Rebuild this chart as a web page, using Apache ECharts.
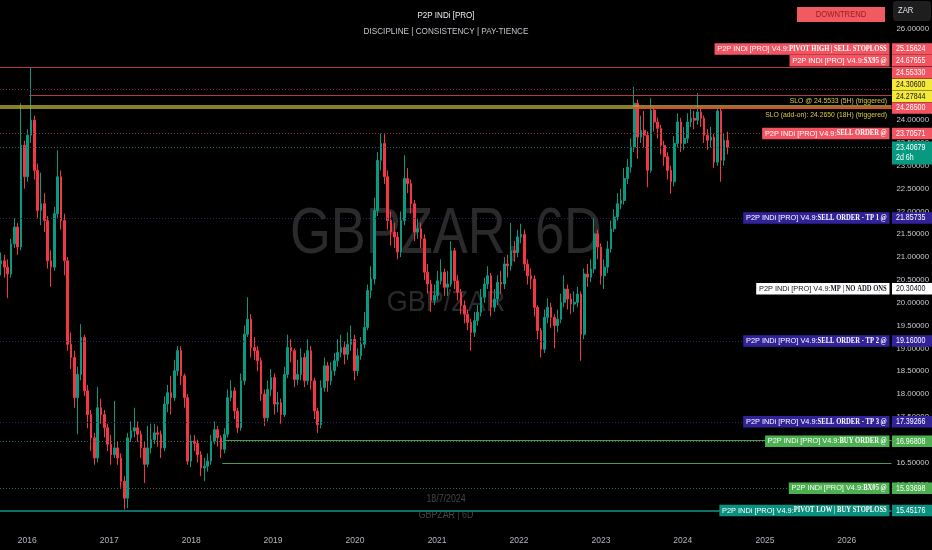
<!DOCTYPE html>
<html><head><meta charset="utf-8">
<script src="https://cdn.jsdelivr.net/npm/echarts@6/dist/echarts.min.js"></script>
<style>html,body{margin:0;padding:0;background:#000;}#c{width:932px;height:550px;}</style>
</head><body><div id="c"></div>
<script>
// ---------- DATA ----------
const START_DATE = '2015-09-07';
const STEP_DAYS = 14.85;
const X_MIN_DATE = '2015-09-02';
const X_MAX_DATE = '2026-07-19';
const FIRST_OPEN = 20.85;
const closes = [
20.92,20.78,20.63,21.29,21.66,21.22,23.45,22.76,23.67,24.00,
22.90,22.02,22.17,21.80,20.92,20.78,21.95,22.76,21.80,20.92,
19.09,18.80,17.92,18.43,19.24,18.07,17.55,17.04,16.60,17.70,
17.55,17.26,16.90,16.67,16.82,16.60,16.09,15.72,17.04,17.19,
17.26,17.12,16.82,16.46,16.82,17.00,17.15,17.12,16.82,17.78,
18.03,17.92,18.51,18.95,18.40,17.92,16.53,16.97,16.92,16.67,
16.38,16.42,16.53,16.97,17.22,17.04,16.79,17.12,17.92,18.07,
17.63,17.26,18.29,19.31,19.64,19.02,18.95,18.73,18.00,17.48,
18.10,18.36,17.78,17.81,17.55,18.43,19.02,18.95,18.32,18.43,
18.80,18.29,18.95,18.29,17.63,17.33,18.14,18.62,18.29,18.51,
18.73,18.91,19.02,18.87,19.09,19.20,18.51,18.84,19.09,19.46,
20.27,20.52,22.02,23.12,23.49,22.76,21.80,21.55,21.44,21.11,
21.80,22.72,22.61,22.17,21.55,21.62,21.40,20.67,20.41,20.05,
20.16,20.48,20.67,20.34,20.41,21.14,20.48,20.23,19.94,19.75,
19.57,19.35,19.61,19.79,20.12,20.41,20.59,19.90,20.08,20.45,
20.41,20.85,20.81,21.14,21.10,21.44,21.50,20.85,20.59,20.52,
19.90,19.39,18.98,19.68,19.90,19.68,19.50,19.64,20.01,20.30,
20.08,19.97,20.01,20.19,19.31,20.63,20.56,20.74,21.51,21.22,
20.59,20.78,21.18,21.62,21.88,22.17,22.24,22.72,22.97,23.41,
24.37,23.63,23.78,23.67,22.90,24.22,23.96,23.82,23.45,23.20,
22.90,22.65,23.49,23.96,23.49,23.60,23.96,24.04,24.00,24.18,
24.04,23.67,23.56,23.63,23.08,24.20,23.12,23.56,23.41];
const highs = [
21.10,21.05,20.95,21.40,21.85,21.75,24.37,23.55,23.80,25.15,
24.10,23.05,22.85,22.40,21.90,21.15,22.10,23.34,22.90,21.95,
21.00,19.35,18.95,18.60,19.53,19.30,18.20,17.65,17.15,18.15,
17.90,17.65,17.35,17.10,17.85,16.95,16.70,16.20,17.15,17.40,
17.70,17.40,17.20,16.95,17.30,17.35,17.35,17.30,17.20,17.95,
18.20,18.40,18.75,19.05,19.05,18.45,18.00,17.10,17.10,17.00,
16.75,16.60,16.70,17.10,17.40,17.30,17.10,17.25,18.10,18.30,
18.15,17.70,18.45,19.50,20.12,19.75,19.25,19.05,18.80,18.10,
18.30,18.55,18.45,18.05,17.90,18.60,19.30,19.20,19.00,18.75,
19.00,18.90,19.20,19.05,18.35,17.70,18.30,18.80,18.70,18.70,
18.90,19.20,19.30,19.15,19.35,19.50,19.30,19.00,19.25,19.80,
20.40,20.80,22.30,23.30,23.71,23.70,22.90,22.00,21.75,21.55,
22.00,23.23,22.95,22.70,22.25,21.85,21.75,21.50,20.85,20.50,
20.40,20.70,20.95,20.75,20.70,21.35,21.20,20.60,20.30,20.05,
19.85,19.65,19.80,19.95,20.30,20.55,20.80,20.65,20.30,20.60,
20.70,21.00,21.05,21.75,21.35,21.60,21.73,21.60,20.95,20.75,
20.60,19.95,19.45,19.85,20.10,20.00,19.75,19.85,20.20,20.60,
20.40,20.20,20.25,20.35,20.25,20.75,20.85,20.95,21.85,21.60,
21.30,20.95,21.35,21.80,22.05,22.40,22.50,22.95,23.15,23.60,
24.73,24.45,24.10,24.20,23.75,24.48,24.30,24.05,23.90,23.55,
23.30,23.00,23.65,24.15,24.05,23.85,24.15,24.25,24.20,24.59,
24.30,24.10,23.80,23.85,23.70,24.27,24.26,23.70,23.75];
const lows = [
20.60,20.55,20.10,20.55,21.20,21.05,21.15,22.50,22.65,23.50,
22.70,21.85,21.70,21.55,20.75,20.35,20.70,21.85,21.60,20.60,
18.95,18.55,17.70,17.12,18.30,17.95,17.25,16.75,16.45,16.50,
17.35,17.05,16.75,16.45,16.60,16.45,15.95,15.47,15.50,16.95,
17.05,16.95,16.60,16.05,16.40,16.70,16.90,16.85,16.60,16.75,
17.60,17.55,17.85,18.40,18.20,17.70,16.45,16.40,16.75,16.50,
16.20,16.09,16.30,16.45,16.90,16.85,16.60,16.70,17.05,17.85,
17.45,17.15,17.20,18.20,19.25,18.80,18.75,18.50,17.85,17.30,
17.40,17.95,17.55,17.60,17.35,17.50,18.35,18.70,18.15,18.20,
18.30,18.15,18.20,18.10,17.45,17.15,17.25,18.05,18.05,18.20,
18.40,18.60,18.80,18.65,18.75,18.95,18.30,18.40,18.75,19.00,
19.40,20.10,20.40,21.90,22.90,22.60,21.60,21.25,21.20,20.95,
21.00,21.70,22.40,21.95,21.35,21.40,21.20,20.50,20.20,19.80,
19.95,20.05,20.40,20.15,20.15,20.35,20.30,20.05,19.75,19.55,
19.40,18.95,19.25,19.50,19.70,20.00,20.30,19.70,19.80,19.95,
20.20,20.30,20.55,20.70,20.90,21.00,21.30,20.70,20.40,20.30,
19.70,19.20,18.80,18.90,19.55,19.45,19.00,19.35,19.55,19.90,
19.85,19.75,19.80,19.90,18.73,19.20,20.35,20.45,20.65,20.95,
20.40,20.30,20.65,21.10,21.55,21.80,22.05,22.15,22.60,22.85,
23.30,23.15,23.50,23.40,22.53,22.85,23.75,23.60,23.25,23.00,
22.70,22.39,22.55,23.40,23.30,23.35,23.50,23.85,23.80,23.90,
23.85,23.50,23.35,23.40,22.95,23.00,22.65,23.00,23.25];

// price tags on the right scale
const tagPrices = [25.15624,24.67655,24.55330,24.30600,24.27844,24.26500,23.70571,23.40679,21.85735,20.30400,19.16000,17.39266,16.96808,15.93698,15.45176];
const tagKinds  = ['red','red','red','yellow','yellow','red','red','current','navy','white','navy','navy','green','green','teal'];
const tagNames  = ['PIVOT HIGH | SELL STOPLOSS','SX95 @','','','','','SELL ORDER @','','SELL ORDER - TP 1 @','MP | NO ADD ONS','SELL ORDER - TP 2 @','SELL ORDER - TP 3 @','BUY ORDER @','BX05 @','PIVOT LOW | BUY STOPLOSS'];
const labelPrefix = 'P2P INDi [PRO] V4.9:';
const countdownText = '2d 6h';
// horizontal level lines
const linePrices = [25.15624,24.67655,24.55330,24.30600,24.27844,24.26500,23.70571,23.40679,21.85735,19.16000,17.39266,16.96808,16.98,16.49,15.93698,15.45176];
const lineStarts = [null,null,'2016-01-10',null,null,'2023-05-22',null,null,null,null,null,null,'2018-05-28','2018-05-20',null,null];
const lineKinds  = ['redSolid','redDot','redSolid','yellow','yellow','redBright','redDot','tealDot','navyDot','navyDot','navyDot','greenDot','greenSolid','greenSolid','greenDot','tealSolid'];
const sloTexts = ['SLO @ 24.5533 (5H) (triggered)','SLO (add-on): 24.2650 (18H) (triggered)'];
const titleText = 'P2P INDi [PRO]';
const subtitleText = 'DISCIPLINE  |  CONSISTENCY  |  PAY-TIENCE';
const trendText = 'DOWNTREND';
const currencyText = 'ZAR';
const watermarkMain = 'GBPZAR, 6D';
const watermarkSub = 'GBP/ZAR';
const watermarkDate = '18/7/2024';
const watermarkSym = 'GBPZAR | 6D';

// ---------- STYLES ----------
const SANS = "'Liberation Sans',Arial,sans-serif";
const SERIF = "'Liberation Serif',serif";
const UP = '#089981', DOWN = '#f23645';
const lineStyleMap = {
  redSolid:{color:'#b23b45',width:1,type:'solid'},
  redBright:{color:'#f23645',width:1.5,type:'solid'},
  redDot:{color:'#8c2a33',width:1,type:[1,2]},
  yellow:{color:'#b8aa2c',width:1.5,type:'solid'},
  tealDot:{color:'#0d6e60',width:1,type:[1,2]},
  navyDot:{color:'#2a2468',width:1,type:[1,2]},
  greenDot:{color:'#2f6e36',width:1,type:[1,2]},
  greenSolid:{color:'#4d9a52',width:1,type:'solid'},
  tealSolid:{color:'#0f6f66',width:2,type:'solid'}
};
const tagStyleMap = {
  red:{bg:'#f45461',fg:'#ffffff'},
  yellow:{bg:'#f5e93a',fg:'#131722'},
  current:{bg:'#089981',fg:'#ffffff'},
  navy:{bg:'#32229a',fg:'#ffffff'},
  white:{bg:'#ffffff',fg:'#131722'},
  green:{bg:'#4caf50',fg:'#ffffff'},
  teal:{bg:'#0b8f7e',fg:'#ffffff'}
};
const NARROW_X = 0.83;

const DAY = 86400000;
const t0 = Date.parse(START_DATE + 'T00:00:00Z');
const xMin = Date.parse(X_MIN_DATE + 'T00:00:00Z');
const xMax = Date.parse(X_MAX_DATE + 'T00:00:00Z');
const candles = closes.map((c, i) => [t0 + i * STEP_DAYS * DAY, i === 0 ? FIRST_OPEN : closes[i - 1], c, lows[i], highs[i]]);

const markData = linePrices.map((p, i) => {
  const ls = lineStyleMap[lineKinds[i]];
  if (lineStarts[i]) {
    return [{coord:[Date.parse(lineStarts[i] + 'T00:00:00Z'), p], lineStyle:ls}, {coord:[xMax, p]}];
  }
  return {yAxis:p, lineStyle:ls};
});

const chart = echarts.init(document.getElementById('c'));
chart.setOption({
  backgroundColor:'#000000',
  animation:false,
  grid:{left:0,right:40,top:0,bottom:19},
  xAxis:{type:'time',min:xMin,max:xMax,minInterval:365*DAY,maxInterval:366*DAY,
    axisLine:{show:false},axisTick:{show:false},splitLine:{show:false},
    axisLabel:{color:'#b2b5be',fontSize:8.5,fontFamily:SANS,margin:5,showMinLabel:false,showMaxLabel:false,
      formatter:function(v){const d=new Date(v);return (d.getUTCMonth()===0&&d.getUTCDate()===1)?String(d.getUTCFullYear()):'';}}},
  yAxis:{type:'value',position:'right',min:15,max:26.632,interval:0.5,scale:true,
    axisLine:{show:false},axisTick:{show:false},splitLine:{show:false},
    axisLabel:{color:'#c8cad0',fontSize:7.8,fontFamily:SANS,margin:5,showMinLabel:false,showMaxLabel:false,formatter:v=>v.toFixed(5)}},
  series:[{type:'candlestick',data:candles,barWidth:2.1,silent:true,
    itemStyle:{color:UP,color0:DOWN,borderColor:UP,borderColor0:DOWN,borderWidth:1},
    markLine:{silent:true,symbol:['none','none'],label:{show:false},animation:false,data:markData}}]
});

// ---------- overlays ----------
const yOf = p => chart.convertToPixel({yAxisIndex:0}, p);
const items = tagPrices.map((p, i) => ({i, p, y:yOf(p)}));
items.sort((a, b) => b.y - a.y);
const ROW = 11.8;
for (let k = 1; k < items.length; k++) {
  if (items[k].y > items[k - 1].y - ROW) items[k].y = items[k - 1].y - ROW;
}
const g = [];
function txt(x, y, text, size, fill, align, sx, z, weight) {
  return {type:'text',x:x,y:y,scaleX:sx,z:z,silent:true,
    style:{text:text,fill:fill,font:(weight||'normal')+' '+size+'px '+SANS,align:align,verticalAlign:'middle'}};
}
// watermarks
g.push(txt(446,235,watermarkMain,64,'#2a2a2a','center',0.82,-10));
g.push(txt(446,303,watermarkSub,30,'#2a2a2a','center',0.9,-10));
g.push(txt(446,499,watermarkDate,10,'#454545','center',0.88,-10));
g.push(txt(446,515,watermarkSym,10,'#454545','center',0.88,-10));
// header
g.push(txt(446,15,titleText,9.8,'#eef0f4','center',0.82,50));
g.push(txt(446,31,subtitleText.replace(/  /g,' '),9.5,'#c3c6ce','center',0.86,50));
g.push({type:'rect',z:50,silent:true,shape:{x:797,y:7,width:88,height:15},style:{fill:'#f25a62'}});
g.push(txt(841,14.5,trendText,9,'#9a1f24','center',0.85,51));
g.push({type:'rect',z:50,silent:true,shape:{x:893,y:1,width:38,height:20,r:3},style:{fill:'#1e1e1e'}});
g.push(txt(898,11,currencyText,9,'#e0e3eb','left',0.85,51));
// SLO texts
const ySlo1 = yOf(24.306), ySlo2 = yOf(24.265);
g.push(txt(887,ySlo1-5.5,sloTexts[0],8,'#d9cc3c','right',0.85,60));
g.push(txt(887,ySlo2+7,sloTexts[1],8,'#d9cc3c','right',0.85,60));
// tags + labels
items.forEach(it => {
  const kind = tagKinds[it.i];
  const st = tagStyleMap[kind];
  const h = kind === 'current' ? 23 : 11.5;
  g.push({type:'rect',z:100,silent:true,shape:{x:892,y:it.y-5.75,width:40,height:h},style:{fill:st.bg}});
  g.push(txt(896,it.y,tagPrices[it.i].toFixed(5),8.5,st.fg,'left',NARROW_X,101));
  if (kind === 'current') g.push(txt(896,it.y+10.5,countdownText,8.5,st.fg,'left',NARROW_X,101));
  const name = tagNames[it.i];
  if (name) {
    g.push({type:'text',x:889.5,y:it.y,scaleX:0.92,z:101,silent:true,style:{
      text:'{n|' + labelPrefix + '}{b|' + name + '}',
      align:'right',verticalAlign:'middle',backgroundColor:st.bg,padding:[0,3,0,3],
      rich:{n:{fill:st.fg,fontSize:8,fontFamily:SANS,lineHeight:11.5},
            b:{fill:st.fg,fontSize:7.2,fontFamily:SERIF,fontWeight:'bold',lineHeight:11.5}}}});
  }
});
chart.setOption({graphic:{elements:g}});
</script></body></html>
